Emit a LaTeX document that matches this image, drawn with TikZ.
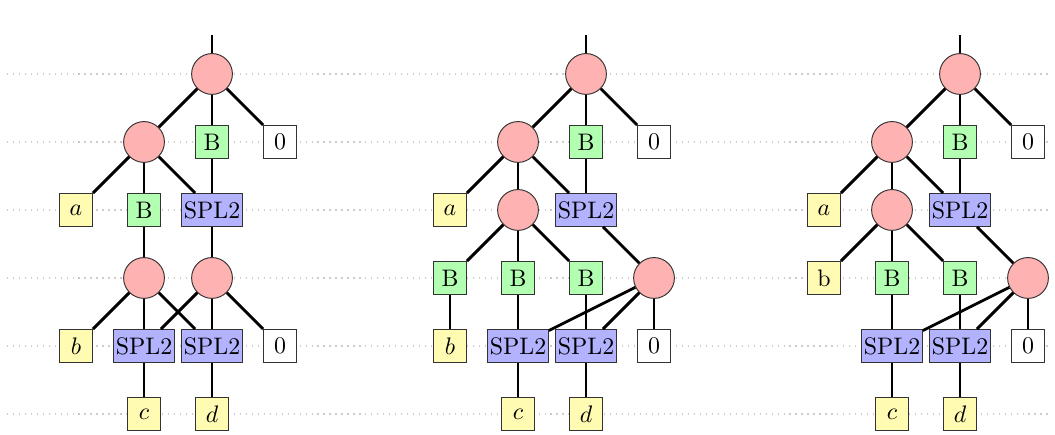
\documentclass[tikz,border=0pt]{standalone}
\begin{document}
\begin{tikzpicture}[
  op/.style={circle, draw=black!80, fill=red!30, minimum size=0.6cm, inner sep=0pt},
  boxb/.style={rectangle, draw=black!80, minimum size=0.485cm, inner sep=0.9pt, font=\normalsize},
  leaf/.style={boxb, fill=yellow!30},
  bnode/.style={boxb, fill=green!30},
  spl/.style={boxb, fill=blue!30},
  zero/.style={boxb, fill=white},
  edge/.style={line width=1.2pt, black},
  guide/.style={black!20, dotted, line width=0.5pt}
]
\useasboundingbox (0,-5.309) rectangle (15.515,1.088);

% level guides
\foreach \y in {0,-1,-2,-3,-4,-5}
  \draw[guide] (0.1,\y) -- (15.45,\y);

% ---------- first tree ----------
\begin{scope}[xshift=1.118cm]
  \node[op]    (r1)  at (2,0) {};
  \coordinate  (s1)  at (2,0.573);
  \node[op]    (p1)  at (1,-1) {};
  \node[bnode] (q1)  at (2,-1) {B};
  \node[zero]  (z1)  at (3,-1) {0};
  \node[leaf]  (a1)  at (0,-2) {$a$};
  \node[bnode] (u1)  at (1,-2) {B};
  \node[spl]   (v1)  at (2,-2) {SPL2};
  \node[op]    (m1)  at (1,-3) {};
  \node[op]    (n1)  at (2,-3) {};
  \node[leaf]  (b1)  at (0,-4) {$b$};
  \node[spl]   (x1)  at (1,-4) {SPL2};
  \node[spl]   (y1)  at (2,-4) {SPL2};
  \node[zero]  (w1)  at (3,-4) {0};
  \node[leaf]  (c1)  at (1,-5) {$c$};
  \node[leaf]  (d1)  at (2,-5) {$d$};
\end{scope}
\draw[edge] (s1) -- (r1);
\draw[edge] (r1) -- (p1);
\draw[edge] (r1) -- (q1);
\draw[edge] (r1) -- (z1);
\draw[edge] (p1) -- (a1);
\draw[edge] (p1) -- (u1);
\draw[edge] (p1) -- (v1);
\draw[edge] (q1) -- (v1);
\draw[edge] (u1) -- (m1);
\draw[edge] (v1) -- (n1);
\draw[edge] (m1) -- (b1);
\draw[edge] (m1) -- (x1);
\draw[edge] (m1) -- (y1);
\draw[edge] (n1) -- (x1);
\draw[edge] (n1) -- (y1);
\draw[edge] (n1) -- (w1);
\draw[edge] (x1) -- (c1);
\draw[edge] (y1) -- (d1);

% ---------- second tree ----------
\begin{scope}[xshift=6.618cm]
  \node[op]    (r2)  at (2,0) {};
  \coordinate  (s2)  at (2,0.573);
  \node[op]    (p2)  at (1,-1) {};
  \node[bnode] (q2)  at (2,-1) {B};
  \node[zero]  (z2)  at (3,-1) {0};
  \node[leaf]  (a2)  at (0,-2) {$a$};
  \node[op]    (k2)  at (1,-2) {};
  \node[spl]   (v2)  at (2,-2) {SPL2};
  \node[bnode] (e2)  at (0,-3) {B};
  \node[bnode] (f2)  at (1,-3) {B};
  \node[bnode] (g2)  at (2,-3) {B};
  \node[op]    (n2)  at (3,-3) {};
  \node[leaf]  (b2)  at (0,-4) {$b$};
  \node[spl]   (x2)  at (1,-4) {SPL2};
  \node[spl]   (y2)  at (2,-4) {SPL2};
  \node[zero]  (w2)  at (3,-4) {0};
  \node[leaf]  (c2)  at (1,-5) {$c$};
  \node[leaf]  (d2)  at (2,-5) {$d$};
\end{scope}
\draw[edge] (s2) -- (r2);
\draw[edge] (r2) -- (p2);
\draw[edge] (r2) -- (q2);
\draw[edge] (r2) -- (z2);
\draw[edge] (p2) -- (a2);
\draw[edge] (p2) -- (k2);
\draw[edge] (p2) -- (v2);
\draw[edge] (q2) -- (v2);
\draw[edge] (k2) -- (e2);
\draw[edge] (k2) -- (f2);
\draw[edge] (k2) -- (g2);
\draw[edge] (v2) -- (n2);
\draw[edge] (e2) -- (b2);
\draw[edge] (f2) -- (x2);
\draw[edge] (g2) -- (y2);
\draw[edge] (n2) -- (x2);
\draw[edge] (n2) -- (y2);
\draw[edge] (n2) -- (w2);
\draw[edge] (x2) -- (c2);
\draw[edge] (y2) -- (d2);

% ---------- third tree ----------
\begin{scope}[xshift=12.118cm]
  \node[op]    (r3)  at (2,0) {};
  \coordinate  (s3)  at (2,0.573);
  \node[op]    (p3)  at (1,-1) {};
  \node[bnode] (q3)  at (2,-1) {B};
  \node[zero]  (z3)  at (3,-1) {0};
  \node[leaf]  (a3)  at (0,-2) {$a$};
  \node[op]    (k3)  at (1,-2) {};
  \node[spl]   (v3)  at (2,-2) {SPL2};
  \node[leaf]  (b3)  at (0,-3) {b};
  \node[bnode] (f3)  at (1,-3) {B};
  \node[bnode] (g3)  at (2,-3) {B};
  \node[op]    (n3)  at (3,-3) {};
  \node[spl]   (x3)  at (1,-4) {SPL2};
  \node[spl]   (y3)  at (2,-4) {SPL2};
  \node[zero]  (w3)  at (3,-4) {0};
  \node[leaf]  (c3)  at (1,-5) {$c$};
  \node[leaf]  (d3)  at (2,-5) {$d$};
\end{scope}
\draw[edge] (s3) -- (r3);
\draw[edge] (r3) -- (p3);
\draw[edge] (r3) -- (q3);
\draw[edge] (r3) -- (z3);
\draw[edge] (p3) -- (a3);
\draw[edge] (p3) -- (k3);
\draw[edge] (p3) -- (v3);
\draw[edge] (q3) -- (v3);
\draw[edge] (k3) -- (b3);
\draw[edge] (k3) -- (f3);
\draw[edge] (k3) -- (g3);
\draw[edge] (v3) -- (n3);
\draw[edge] (f3) -- (x3);
\draw[edge] (g3) -- (y3);
\draw[edge] (n3) -- (x3);
\draw[edge] (n3) -- (y3);
\draw[edge] (n3) -- (w3);
\draw[edge] (x3) -- (c3);
\draw[edge] (y3) -- (d3);
\end{tikzpicture}
\end{document}
